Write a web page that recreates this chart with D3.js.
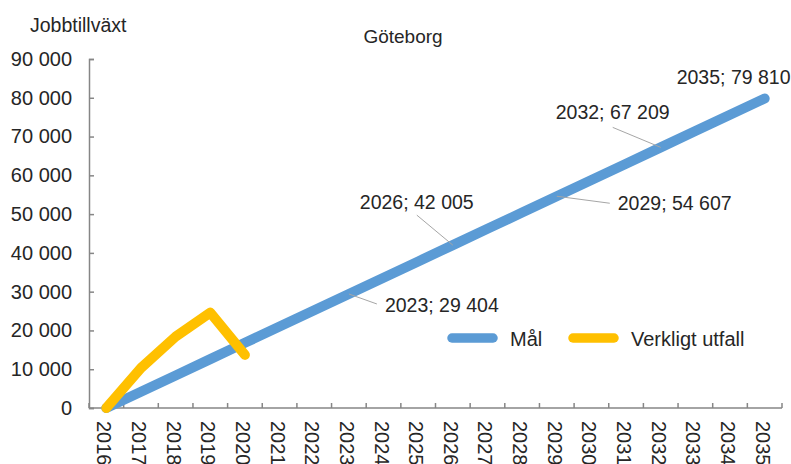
<!DOCTYPE html>
<html>
<head>
<meta charset="utf-8">
<script src="https://cdn.jsdelivr.net/npm/d3@7"></script>
<style>
  html, body { margin: 0; padding: 0; background: #fff; }
  svg { display: block; font-family: "Liberation Sans", Arial, sans-serif; }
</style>
</head>
<body>
<svg id="chart" width="791" height="464"></svg>
<script>
// ---- data ----
const years = ["2016","2017","2018","2019","2020","2021","2022","2023","2024","2025",
               "2026","2027","2028","2029","2030","2031","2032","2033","2034","2035"];
const malValues = [0, 4200, 8401, 12601, 16802, 21002, 25203, 29404, 33604, 37805,
                   42005, 46206, 50406, 54607, 58807, 63008, 67209, 71409, 75610, 79810];
const utfallYears = ["2016","2017","2018","2019","2020"];
const utfallValues = [0, 10300, 18400, 24600, 13700];
const yTicks = [0, 10000, 20000, 30000, 40000, 50000, 60000, 70000, 80000, 90000];
const labelYears = ["2023","2026","2029","2032","2035"];
const seriesNames = ["Mål", "Verkligt utfall"];
const chartTitle = "Göteborg";
const yTitle = "Jobbtillväxt";

// ---- layout / style ----
const blue = "#5B9BD5", yellow = "#FFC000", textCol = "#262626";
const svg = d3.select("#chart");
const pLeft = 89, pRight = 782, pTop = 59, pBottom = 408;

const x = d3.scaleBand().domain(years).range([pLeft, pRight]);
const xc = d => x(d) + x.bandwidth() / 2;
const y = d3.scaleLinear().domain([0, 90000]).range([pBottom, pTop]);
const fmt = v => d3.format(",")(v).replace(/,/g, " ");

// titles
svg.append("text").attr("x", 30).attr("y", 32).attr("font-size", 19.5)
  .attr("fill", textCol).text(yTitle);
svg.append("text").attr("x", 403).attr("y", 43).attr("text-anchor", "middle")
  .attr("font-size", 19).attr("fill", textCol).text(chartTitle);

// y axis
const yAxis = d3.axisLeft(y).tickValues(yTicks).tickSize(-5).tickPadding(17).tickFormat(fmt);
const gy = svg.append("g").attr("transform", `translate(${pLeft},0)`).call(yAxis);
gy.select(".domain").attr("stroke", "#868686").attr("stroke-width", 1.5);
gy.selectAll(".tick line").attr("stroke", "#868686").attr("stroke-width", 1.5);
gy.selectAll(".tick text").attr("font-size", 20).attr("fill", textCol)
  .attr("font-family", "Liberation Sans, Arial, sans-serif");

// x axis
const xTickPos = years.map(d => x(d)).concat([pRight]);
const gx = svg.append("g");
gx.append("line").attr("x1", pLeft).attr("x2", pRight).attr("y1", pBottom).attr("y2", pBottom)
  .attr("stroke", "#868686").attr("stroke-width", 1.5);
gx.selectAll("line.t").data(xTickPos).join("line").attr("class", "t")
  .attr("x1", d => d).attr("x2", d => d).attr("y1", pBottom).attr("y2", pBottom - 5)
  .attr("stroke", "#868686").attr("stroke-width", 1.5);
gx.selectAll("text").data(years).join("text")
  .attr("transform", d => `translate(${xc(d) - 2},421) rotate(90)`)
  .attr("dy", "0.35em").attr("font-size", 20).attr("fill", textCol).text(d => d);

// lines
const line = d3.line().x(d => xc(d[0])).y(d => y(d[1]));
svg.append("path").datum(years.map((d, i) => [d, malValues[i]]))
  .attr("d", line).attr("fill", "none").attr("stroke", blue).attr("stroke-width", 10)
  .attr("stroke-linecap", "round").attr("stroke-linejoin", "round");
svg.append("path").datum(utfallYears.map((d, i) => [d, utfallValues[i]]))
  .attr("d", line).attr("fill", "none").attr("stroke", yellow).attr("stroke-width", 10)
  .attr("stroke-linecap", "round").attr("stroke-linejoin", "round");

// data labels (offsets relative to point: text start dx, baseline dy, leader end)
const labelOffsets = {
  "2023": { tx: 36, ty: 18, lx: 28, ly: 10 },
  "2026": { tx: -93, ty: -36, lx: -36, ly: -30 },
  "2029": { tx: 61, ty: 14, lx: 53, ly: 7 },
  "2032": { tx: -105, ty: -28, lx: -48, ly: -20 },
  "2035": { tx: -88, ty: -15, lx: null, ly: null }
};
labelYears.forEach(yr => {
  const i = years.indexOf(yr);
  const px = xc(yr), py = y(malValues[i]);
  const o = labelOffsets[yr];
  if (o.lx !== null) {
    svg.append("line").attr("x1", px).attr("y1", py).attr("x2", px + o.lx).attr("y2", py + o.ly)
      .attr("stroke", "#a6a6a6").attr("stroke-width", 1);
  }
  svg.append("text").attr("x", px + o.tx).attr("y", py + o.ty).attr("font-size", 19.5)
    .attr("fill", textCol).text(`${yr}; ${fmt(malValues[i])}`);
});

// legend
const legend = [{ name: seriesNames[0], color: blue, x: 447 }, { name: seriesNames[1], color: yellow, x: 568 }];
legend.forEach(l => {
  svg.append("line").attr("x1", l.x + 5).attr("x2", l.x + 46).attr("y1", 338).attr("y2", 338)
    .attr("stroke", l.color).attr("stroke-width", 9.5).attr("stroke-linecap", "round");
  svg.append("text").attr("x", l.x + 63).attr("y", 346).attr("font-size", 20)
    .attr("fill", textCol).text(l.name);
});
</script>
</body>
</html>
